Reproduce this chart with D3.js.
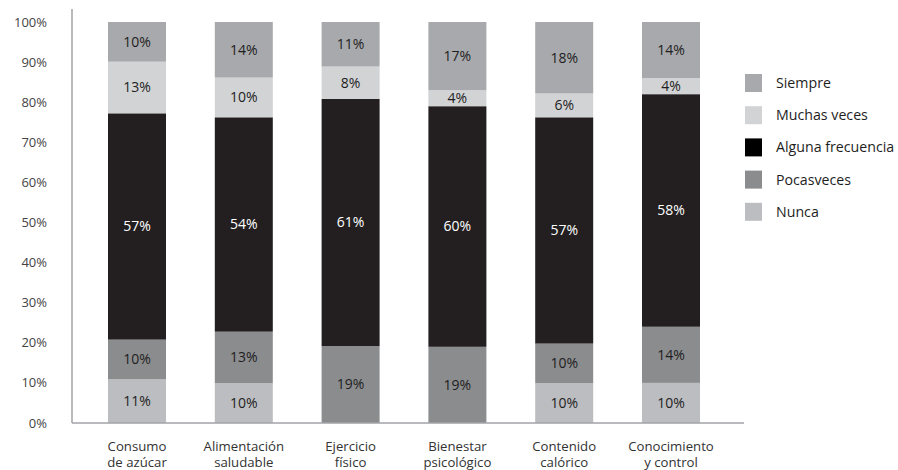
<!DOCTYPE html>
<html>
<head>
<meta charset="utf-8">
<script src="https://cdn.jsdelivr.net/npm/d3@7"></script>
<style>
  body { margin: 0; background: #fff; }
  svg { display: block; font-family: "Open Sans", sans-serif; }
</style>
</head>
<body>
<svg id="chart" width="898" height="470"></svg>
<script>
// categories (two-line labels) and the answer series, bottom to top
const categories = [
  ["Consumo", "de azúcar"],
  ["Alimentación", "saludable"],
  ["Ejercicio", "físico"],
  ["Bienestar", "psicológico"],
  ["Contenido", "calórico"],
  ["Conocimiento", "y control"],
];
const seriesNames = ["Nunca", "Pocasveces", "Alguna frecuencia", "Muchas veces", "Siempre"];

const nunca = [11, 10, 0, 0, 10, 10];
const pocasveces = [10, 13, 19, 19, 10, 14];
const algunaFrecuencia = [57, 54, 61, 60, 57, 58];
const muchasVeces = [13, 10, 8, 4, 6, 4];
const siempre = [10, 14, 11, 17, 18, 14];

const yTicks = [0, 0.1, 0.2, 0.3, 0.4, 0.5, 0.6, 0.7, 0.8, 0.9, 1];

const barColors = {
  "Nunca": "#bcbdc0",
  "Pocasveces": "#8b8c8e",
  "Alguna frecuencia": "#231f20",
  "Muchas veces": "#d2d3d5",
  "Siempre": "#a8a9ac",
};
const legendColors = { ...barColors, "Alguna frecuencia": "#000000" };
const darkSeries = ["Alguna frecuencia"];

const columns = [nunca, pocasveces, algunaFrecuencia, muchasVeces, siempre];
const rows = categories.map((c, i) => {
  const row = { key: c.join(" ") };
  seriesNames.forEach((s, j) => (row[s] = columns[j][i]));
  return row;
});

const svg = d3.select("#chart");
const margin = { top: 22, bottom: 423, left: 72 };

const xScale = d3
  .scaleBand()
  .domain(rows.map((d) => d.key))
  .range([83.6, 724.4])
  .paddingInner(0.457)
  .paddingOuter(0.2285);

const yScale = d3.scaleLinear().domain([0, 1]).range([margin.bottom, margin.top]);

// each column is normalised to 100%
const stacked = d3
  .stack()
  .keys(seriesNames)
  .offset(d3.stackOffsetExpand)(rows);

// y tick labels
svg
  .append("g")
  .selectAll("text")
  .data(yTicks)
  .enter()
  .append("text")
  .attr("x", 47)
  .attr("y", (d) => yScale(d))
  .attr("dy", "0.35em")
  .attr("text-anchor", "end")
  .attr("font-size", 13)
  .attr("fill", "#444")
  .text((d) => d3.format(".0%")(d));

// bars
const layers = svg
  .selectAll(".layer")
  .data(stacked)
  .enter()
  .append("g")
  .attr("class", "layer")
  .attr("fill", (d) => barColors[d.key]);

layers
  .selectAll("rect")
  .data((d) => d)
  .enter()
  .append("rect")
  .attr("x", (d) => xScale(d.data.key))
  .attr("y", (d) => yScale(d[1]))
  .attr("width", xScale.bandwidth())
  .attr("height", (d) => yScale(d[0]) - yScale(d[1]));

// value labels inside the segments
stacked.forEach((layer) => {
  svg
    .append("g")
    .selectAll("text")
    .data(layer.filter((d) => d.data[layer.key] > 0))
    .enter()
    .append("text")
    .attr("x", (d) => xScale(d.data.key) + xScale.bandwidth() / 2)
    .attr("y", (d) => (yScale(d[0]) + yScale(d[1])) / 2)
    .attr("dy", "0.35em")
    .attr("text-anchor", "middle")
    .attr("font-size", 14)
    .attr("fill", darkSeries.includes(layer.key) ? "#fff" : "#1e1e1e")
    .text((d) => d.data[layer.key] + "%");
});

// axis lines
svg
  .append("line")
  .attr("x1", margin.left)
  .attr("x2", margin.left)
  .attr("y1", 9)
  .attr("y2", margin.bottom)
  .attr("stroke", "#a3a3a8")
  .attr("stroke-width", 1.5);

svg
  .append("line")
  .attr("x1", margin.left)
  .attr("x2", 744)
  .attr("y1", margin.bottom)
  .attr("y2", margin.bottom)
  .attr("stroke", "#a3a3a8")
  .attr("stroke-width", 1.5);

// category labels, one text per line
categories.forEach((lines, i) => {
  const cx = xScale(rows[i].key) + xScale.bandwidth() / 2;
  lines.forEach((line, j) => {
    svg
      .append("text")
      .attr("x", cx)
      .attr("y", 451 + j * 15.5)
      .attr("text-anchor", "middle")
      .attr("font-size", 13.2)
      .attr("fill", "#333")
      .text(line);
  });
});

// legend, top to bottom
const legendOrder = seriesNames.slice().reverse();
const legend = svg
  .append("g")
  .selectAll("g")
  .data(legendOrder)
  .enter()
  .append("g")
  .attr("transform", (d, i) => `translate(745, ${74 + i * 32.2})`);

legend
  .append("rect")
  .attr("width", 17)
  .attr("height", 18)
  .attr("fill", (d) => legendColors[d]);

legend
  .append("text")
  .attr("x", 31)
  .attr("y", 9)
  .attr("dy", "0.35em")
  .attr("font-size", 14.2)
  .attr("fill", "#1e1e1e")
  .text((d) => d);
</script>
</body>
</html>
